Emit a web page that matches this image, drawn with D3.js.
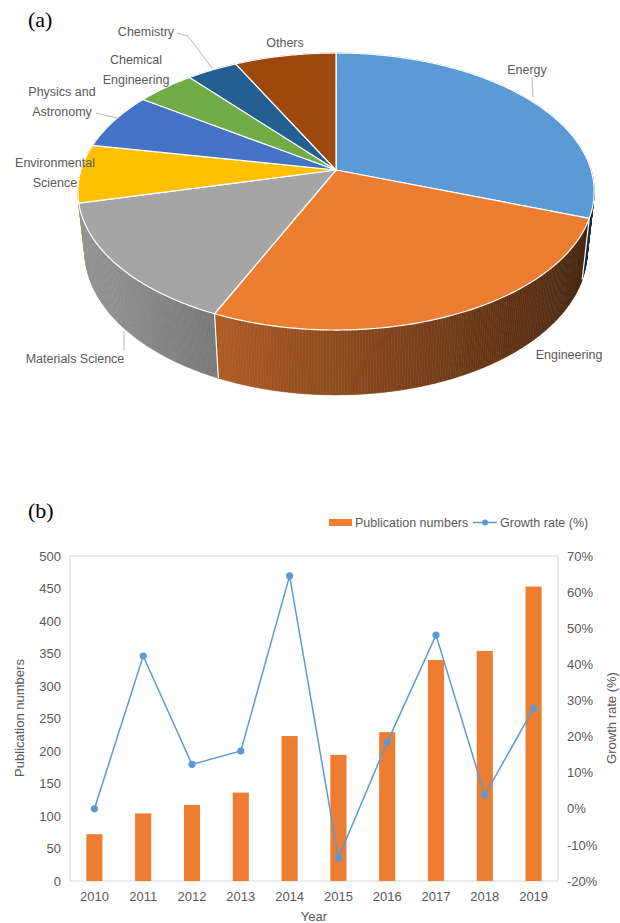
<!DOCTYPE html>
<html>
<head>
<meta charset="utf-8">
<script src="https://cdn.jsdelivr.net/npm/d3@7"></script>
<style>
  body { margin: 0; background: #fff; }
  svg { display: block; }
</style>
</head>
<body>
<div id="chart"></div>
<script>
// (a) subject areas, % share
var subjects = ["Energy", "Engineering", "Materials Science", "Environmental Science",
                "Physics and Astronomy", "Chemical Engineering", "Chemistry", "Others"];
var shares = [30.5, 26.2, 14.5, 6.8, 6.6, 4.3, 3.7, 7.4];
var sliceColors = ["#5B9BD5", "#ED7D31", "#A5A5A5", "#FFC000", "#4472C4", "#70AD47", "#255E91", "#9E480E"];

// (b) publications per year
var years = ["2010", "2011", "2012", "2013", "2014", "2015", "2016", "2017", "2018", "2019"];
var pubs = [72, 104, 117, 136, 223, 194, 229, 340, 354, 453];
var growth = [0.0, 42.3, 12.3, 16.0, 64.5, -13.6, 18.4, 48.1, 3.8, 27.8];
var leftTicks = [0, 50, 100, 150, 200, 250, 300, 350, 400, 450, 500];
var rightTicks = [-20, -10, 0, 10, 20, 30, 40, 50, 60, 70];

var width = 620, height = 923;
var grey = "#595959";

var svg = d3.select("#chart").append("svg")
    .attr("width", width)
    .attr("height", height);

//---------------- (a) 3D pie ----------------
svg.append("text").attr("x", 28).attr("y", 27)
    .style("font-family", "Liberation Serif, serif").style("font-size", "22px")
    .text("(a)");

var cx = 336, cy = 170, F = 1395, D = 5.47, SIN = 0.53, COS = 0.85, T = 0.281;

// perspective projection of a point on the disk (theta clockwise from back)
function proj(theta, r, h) {
    var u = r * Math.sin(theta), w = -r * Math.cos(theta);
    var s = w * SIN + h * COS, z = D - w * COS + h * SIN;
    return [cx + F * u / z, cy + F * s / z];
}

var pie = d3.pie().sort(null).value(function(d) { return d; });
var arcs = pie(shares);
var line = d3.line();

// side wall, sliced in thin strips and shaded by direction
var strips = [];
arcs.forEach(function(a, i) {
    var n = Math.max(2, Math.ceil((a.endAngle - a.startAngle) / 0.01));
    for (var k = 0; k < n; k++) {
        var t0 = a.startAngle + (a.endAngle - a.startAngle) * k / n;
        var t1 = a.startAngle + (a.endAngle - a.startAngle) * (k + 1) / n;
        var tm = (t0 + t1) / 2;
        strips.push({ i: i, t0: t0, t1: t1, w: -Math.cos(tm), u: Math.sin(tm) });
    }
});
strips.sort(function(a, b) { return a.w - b.w; });

var walls = svg.append("g");
walls.selectAll("path")
    .data(strips)
    .enter()
    .append("path")
    .attr("d", function(d) {
        return line([proj(d.t0, 1, 0), proj(d.t1, 1, 0), proj(d.t1, 1, T), proj(d.t0, 1, T)]) + "Z";
    })
    .each(function(d) {
        var c = d3.rgb(sliceColors[d.i]);
        var k = 0.6 - 0.32 * d.u;
        var col = d3.rgb(c.r * k, c.g * k, c.b * k).toString();
        d3.select(this).attr("fill", col).attr("stroke", col).attr("stroke-width", 0.6);
    });

// white edges on the visible part of the wall
walls.selectAll("line.edge")
    .data(arcs.filter(function(a) { return -Math.cos(a.startAngle) > 0.25; }))
    .enter()
    .append("line")
    .attr("x1", function(d) { return proj(d.startAngle, 1, 0)[0]; })
    .attr("y1", function(d) { return proj(d.startAngle, 1, 0)[1]; })
    .attr("x2", function(d) { return proj(d.startAngle, 1, T)[0]; })
    .attr("y2", function(d) { return proj(d.startAngle, 1, T)[1]; })
    .attr("stroke", "#fff").attr("stroke-width", 1.2);

// top face
svg.append("g").selectAll("path")
    .data(arcs)
    .enter()
    .append("path")
    .attr("d", function(d) {
        var pts = [proj(0, 0, 0)];
        var n = Math.ceil((d.endAngle - d.startAngle) / 0.01);
        for (var k = 0; k <= n; k++) {
            pts.push(proj(d.startAngle + (d.endAngle - d.startAngle) * k / n, 1, 0));
        }
        return line(pts) + "Z";
    })
    .attr("fill", function(d, i) { return sliceColors[i]; })
    .attr("stroke", "#fff")
    .attr("stroke-width", 1.2)
    .attr("stroke-linejoin", "round");

// labels
var labelPos = [
    { lines: ["Energy"], x: 527, y: 70 },
    { lines: ["Engineering"], x: 569, y: 355 },
    { lines: ["Materials Science"], x: 75, y: 359 },
    { lines: ["Environmental", "Science"], x: 55, y: 163 },
    { lines: ["Physics and", "Astronomy"], x: 62, y: 92 },
    { lines: ["Chemical", "Engineering"], x: 136, y: 60 },
    { lines: ["Chemistry"], x: 146, y: 32 },
    { lines: ["Others"], x: 285, y: 43 }
];
var leaders = [
    [[532, 77], [533, 97]],
    [[124, 331], [124, 350]],
    [[96, 113], [117, 118]],
    [[177, 33], [188, 36], [212, 68]]
];
svg.append("g").selectAll("path")
    .data(leaders)
    .enter()
    .append("path")
    .attr("d", function(d) { return line(d); })
    .attr("fill", "none")
    .attr("stroke", "#a6a6a6")
    .attr("stroke-width", 0.8);

var lab = svg.append("g")
    .style("font-family", "Liberation Sans, Arial, sans-serif")
    .style("font-size", "12.5px")
    .attr("fill", grey)
    .attr("text-anchor", "middle");
labelPos.forEach(function(p) {
    p.lines.forEach(function(t, j) {
        lab.append("text").attr("x", p.x).attr("y", p.y + j * 20 + 4).text(t);
    });
});

//---------------- (b) bars + growth line ----------------
svg.append("text").attr("x", 28).attr("y", 518)
    .style("font-family", "Liberation Serif, serif").style("font-size", "22px")
    .text("(b)");

var pLeft = 70, pRight = 558, pTop = 556, pBottom = 881;

var x = d3.scaleBand().domain(years).range([pLeft, pRight]).padding(0);
var yL = d3.scaleLinear().domain([0, 500]).range([pBottom, pTop]);
var yR = d3.scaleLinear().domain([-20, 70]).range([pBottom, pTop]);

svg.append("rect")
    .attr("x", pLeft).attr("y", pTop)
    .attr("width", pRight - pLeft).attr("height", pBottom - pTop)
    .attr("fill", "none").attr("stroke", "#d9d9d9").attr("stroke-width", 1);

var barW = x.bandwidth() * 0.33;
svg.append("g").selectAll("rect")
    .data(pubs)
    .enter()
    .append("rect")
    .attr("x", function(d, i) { return x(years[i]) + x.bandwidth() / 2 - barW / 2; })
    .attr("y", function(d) { return yL(d); })
    .attr("width", barW)
    .attr("height", function(d) { return pBottom - yL(d); })
    .attr("fill", "#ED7D31");

var gLine = d3.line()
    .x(function(d, i) { return x(years[i]) + x.bandwidth() / 2; })
    .y(function(d) { return yR(d); });
svg.append("path")
    .datum(growth)
    .attr("d", gLine)
    .attr("fill", "none")
    .attr("stroke", "#5B9BD5")
    .attr("stroke-width", 1.5);
svg.append("g").selectAll("circle")
    .data(growth)
    .enter()
    .append("circle")
    .attr("cx", function(d, i) { return x(years[i]) + x.bandwidth() / 2; })
    .attr("cy", function(d) { return yR(d); })
    .attr("r", 3.6)
    .attr("fill", "#5B9BD5");

function styleAxis(g) {
    g.select(".domain").remove();
    g.selectAll("text")
        .attr("fill", grey)
        .style("font-family", "Liberation Sans, Arial, sans-serif")
        .style("font-size", "13px");
}

svg.append("g")
    .attr("transform", "translate(" + pLeft + ",0)")
    .call(d3.axisLeft(yL).tickValues(leftTicks).tickSize(0).tickPadding(9))
    .call(styleAxis);

svg.append("g")
    .attr("transform", "translate(" + pRight + ",0)")
    .call(d3.axisRight(yR).tickValues(rightTicks).tickSize(0).tickPadding(9)
        .tickFormat(function(d) { return d + "%"; }))
    .call(styleAxis);

svg.append("g")
    .attr("transform", "translate(0," + pBottom + ")")
    .call(d3.axisBottom(x).tickSize(0).tickPadding(11))
    .call(styleAxis);

var titles = svg.append("g")
    .style("font-family", "Liberation Sans, Arial, sans-serif")
    .style("font-size", "13px")
    .attr("fill", grey)
    .attr("text-anchor", "middle");
titles.append("text").attr("x", (pLeft + pRight) / 2).attr("y", 921).text("Year");
titles.append("text").attr("transform", "translate(24,718) rotate(-90)").text("Publication numbers");
titles.append("text").attr("transform", "translate(616,718) rotate(-90)").text("Growth rate (%)");

// legend
var leg = svg.append("g")
    .style("font-family", "Liberation Sans, Arial, sans-serif")
    .style("font-size", "12.5px")
    .attr("fill", grey);
leg.append("rect").attr("x", 329).attr("y", 519).attr("width", 23).attr("height", 7).attr("fill", "#ED7D31");
leg.append("text").attr("x", 355).attr("y", 527).text("Publication numbers");
leg.append("line").attr("x1", 473).attr("x2", 497).attr("y1", 522.5).attr("y2", 522.5)
    .attr("stroke", "#5B9BD5").attr("stroke-width", 1.5);
leg.append("circle").attr("cx", 485).attr("cy", 522.5).attr("r", 3).attr("fill", "#5B9BD5");
leg.append("text").attr("x", 500).attr("y", 527).text("Growth rate (%)");
</script>
</body>
</html>
